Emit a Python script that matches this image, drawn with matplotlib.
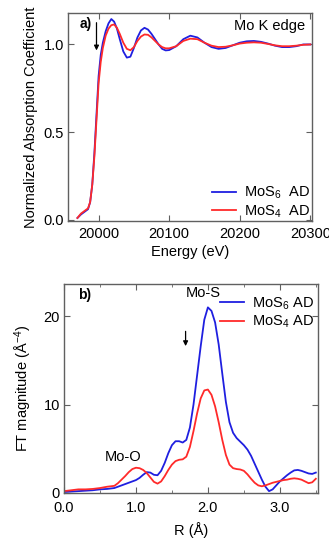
import matplotlib
matplotlib.use('Agg')
import matplotlib.pyplot as plt
from matplotlib.ticker import MultipleLocator

plt.rcParams['font.family'] = ['Liberation Sans', 'DejaVu Sans']
plt.rcParams['mathtext.default'] = 'regular'

BLUE = '#1f1fe0'
RED = '#ff2a2a'
SPINE = '#606060'
FS = 10.5

# Panel a: XANES, Mo K edge
energy = [19970, 19975, 19980, 19985, 19988, 19991, 19994, 19997, 20000, 20003,
          20006, 20010, 20014, 20018, 20022, 20026, 20030, 20035, 20040, 20045,
          20050, 20055, 20060, 20065, 20070, 20075, 20080, 20085, 20090, 20095,
          20100, 20110, 20120, 20130, 20140, 20150, 20160, 20170, 20180, 20190,
          20200, 20210, 20220, 20230, 20240, 20250, 20260, 20270, 20280, 20290,
          20300]
mu_mos6 = [0.01, 0.03, 0.045, 0.06, 0.10, 0.20, 0.38, 0.60, 0.82, 0.94,
           1.01, 1.075, 1.12, 1.145, 1.13, 1.09, 1.03, 0.96, 0.925, 0.93,
           0.98, 1.04, 1.08, 1.095, 1.085, 1.06, 1.03, 1.00, 0.975, 0.966,
           0.968, 0.99, 1.03, 1.05, 1.04, 1.01, 0.985, 0.975, 0.98, 0.995,
           1.01, 1.018, 1.02, 1.015, 1.005, 0.993, 0.985, 0.985, 0.99, 1.00,
           1.00]
mu_mos4 = [0.01, 0.035, 0.05, 0.065, 0.10, 0.20, 0.36, 0.57, 0.78, 0.90,
           0.98, 1.05, 1.09, 1.11, 1.114, 1.095, 1.06, 1.01, 0.975, 0.967,
           0.985, 1.02, 1.045, 1.057, 1.055, 1.04, 1.02, 1.00, 0.985, 0.978,
           0.978, 0.99, 1.02, 1.033, 1.03, 1.01, 0.993, 0.985, 0.987, 0.995,
           1.005, 1.01, 1.012, 1.01, 1.003, 0.995, 0.99, 0.99, 0.993, 0.998,
           1.00]

# Panel b: Fourier transform magnitude
r_dist = [0.0, 0.1, 0.2, 0.3, 0.4, 0.5, 0.6, 0.65, 0.7, 0.75, 0.8, 0.85, 0.9, 0.95,
          1.0, 1.05, 1.1, 1.15, 1.2, 1.25, 1.3, 1.35, 1.4, 1.45, 1.5, 1.55, 1.6,
          1.65, 1.7, 1.75, 1.8, 1.85, 1.9, 1.95, 2.0, 2.05, 2.1, 2.15, 2.2, 2.25,
          2.3, 2.35, 2.4, 2.45, 2.5, 2.55, 2.6, 2.65, 2.7, 2.75, 2.8, 2.85, 2.9,
          2.95, 3.0, 3.05, 3.1, 3.15, 3.2, 3.25, 3.3, 3.35, 3.4, 3.45, 3.5]
ft_mos6 = [0.1, 0.15, 0.2, 0.25, 0.3, 0.4, 0.45, 0.5, 0.55, 0.7, 0.85, 1.0, 1.15, 1.3,
           1.45, 1.7, 2.05, 2.35, 2.3, 2.05, 2.0, 2.5, 3.4, 4.5, 5.4, 5.85, 5.85,
           5.7, 6.0, 7.4, 10.0, 13.3, 16.6, 19.6, 21.0, 20.6, 19.3, 16.8, 13.5, 10.3,
           8.0, 6.8, 6.2, 5.8, 5.4, 4.9, 4.2, 3.3, 2.4, 1.5, 0.7, 0.2, 0.4,
           0.85, 1.3, 1.65, 2.0, 2.3, 2.55, 2.6, 2.5, 2.35, 2.2, 2.15, 2.3]
ft_mos4 = [0.2, 0.3, 0.4, 0.4, 0.45, 0.55, 0.7, 0.75, 0.8, 1.1, 1.5, 1.9, 2.35, 2.7,
           2.85, 2.8, 2.6, 2.25, 1.75, 1.25, 1.05, 1.3, 1.9, 2.6, 3.2, 3.6, 3.75,
           3.8, 4.1, 5.2, 7.0, 9.0, 10.7, 11.6, 11.7, 11.1, 9.8, 8.0, 6.0, 4.3,
           3.2, 2.8, 2.7, 2.65, 2.5, 2.1, 1.6, 1.15, 0.85, 0.75, 0.85, 1.0, 1.15,
           1.25, 1.35, 1.45, 1.5, 1.6, 1.65, 1.6, 1.5, 1.3, 1.1, 1.2, 1.6]

labels_a = ['MoS$_6$  AD', 'MoS$_4$  AD']
labels_b = ['MoS$_6$ AD', 'MoS$_4$ AD']

fig = plt.figure(figsize=(3.29, 5.38), dpi=100)
ax1 = fig.add_axes([0.2075, 0.589, 0.740, 0.387])
ax2 = fig.add_axes([0.1945, 0.083, 0.772, 0.390])


def style_axes(ax, xpad):
    for s in ax.spines.values():
        s.set_color(SPINE)
        s.set_linewidth(1.0)
    ax.tick_params(which='both', direction='in', top=True, right=True,
                   labelsize=FS, color=SPINE)
    ax.tick_params(axis='x', pad=xpad)
    ax.tick_params(axis='y', pad=3)
    ax.tick_params(which='major', length=4)
    ax.tick_params(which='minor', length=2)


# --- panel a ---
ax1.plot(energy, mu_mos6, color=BLUE, lw=1.3, label=labels_a[0])
ax1.plot(energy, mu_mos4, color=RED, lw=1.3, label=labels_a[1])
ax1.set_xlim(19957, 20302)
ax1.set_ylim(-0.008, 1.18)
ax1.xaxis.set_major_locator(MultipleLocator(100))
ax1.yaxis.set_major_locator(MultipleLocator(0.5))
ax1.yaxis.set_major_formatter(plt.FormatStrFormatter('%.1f'))
style_axes(ax1, 4)
ax1.set_xlabel('Energy (eV)', fontsize=FS, labelpad=3)
ax1.set_ylabel('Normalized Absorption Coefficient', fontsize=FS, labelpad=4)
ax1.text(0.048, 0.945, 'a)', transform=ax1.transAxes, fontsize=FS - 0.5,
         fontweight='bold', va='center')
ax1.text(0.972, 0.935, 'Mo K edge', transform=ax1.transAxes, fontsize=FS,
         ha='right', va='center')
ax1.annotate('', xy=(19997, 0.95), xytext=(19997, 1.14),
             arrowprops=dict(arrowstyle='-|>', color='black', lw=0.9,
                             mutation_scale=7))
ax1.legend(loc='lower right', frameon=False, fontsize=FS, handlelength=1.7,
           handletextpad=0.5, labelspacing=0.15, borderaxespad=0.0,
           borderpad=0.3, bbox_to_anchor=(1.01, -0.015))

# --- panel b ---
ax2.plot(r_dist, ft_mos6, color=BLUE, lw=1.3, label=labels_b[0])
ax2.plot(r_dist, ft_mos4, color=RED, lw=1.3, label=labels_b[1])
ax2.set_xlim(0, 3.53)
ax2.set_ylim(-0.05, 23.7)
ax2.xaxis.set_major_locator(MultipleLocator(1.0))
ax2.xaxis.set_minor_locator(MultipleLocator(0.5))
ax2.xaxis.set_major_formatter(plt.FormatStrFormatter('%.1f'))
ax2.yaxis.set_major_locator(MultipleLocator(10))
style_axes(ax2, 5.5)
ax2.set_xlabel('R (Å)', fontsize=FS, labelpad=5)
ax2.set_ylabel('FT magnitude (Å$^{-4}$)', fontsize=FS, labelpad=7)
ax2.text(0.054, 0.944, 'b)', transform=ax2.transAxes, fontsize=FS - 0.5,
         fontweight='bold', va='center')
ax2.text(1.93, 22.6, 'Mo-S', fontsize=FS, ha='center', va='center')
ax2.text(0.82, 4.1, 'Mo-O', fontsize=FS, ha='center', va='center')
ax2.annotate('', xy=(1.69, 16.3), xytext=(1.69, 18.6),
             arrowprops=dict(arrowstyle='-|>', color='black', lw=0.9,
                             mutation_scale=7))
ax2.legend(loc='upper right', frameon=False, fontsize=FS, handlelength=1.7,
           handletextpad=0.5, labelspacing=0.15, borderaxespad=0.0,
           borderpad=0.3, bbox_to_anchor=(1.0, 0.965))

fig.savefig('out.png', dpi=100)
